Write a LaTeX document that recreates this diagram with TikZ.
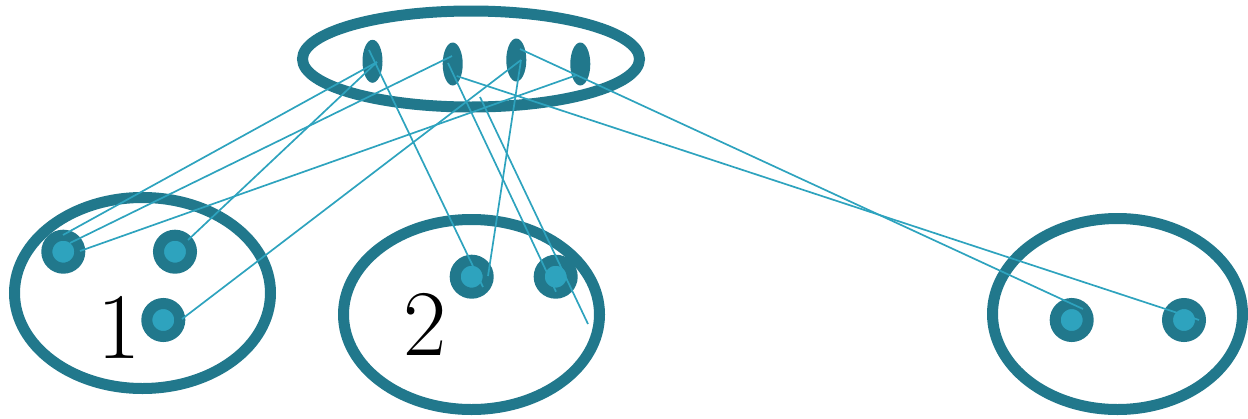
\documentclass[tikz,border=0pt]{standalone}
\usetikzlibrary{shapes.geometric,calc}
\definecolor{darkteal}{RGB}{33,120,140}
\definecolor{lightteal}{RGB}{46,163,190}
\begin{document}
\begin{tikzpicture}[x=1pt,y=-1pt,
  group/.style={draw=darkteal,line width=11pt,ellipse,inner sep=0pt},
  pin/.style={fill=darkteal,ellipse,inner sep=0pt,minimum width=20pt,minimum height=43pt},
  dot/.style={circle,draw=darkteal,fill=lightteal,line width=11pt,inner sep=0pt,minimum size=33pt},
  link/.style={draw=lightteal,line width=1.7pt},
  lbl/.style={inner sep=0pt,font=\fontsize{94}{94}\selectfont}]
\useasboundingbox (0,0) rectangle (1248,418);
% groups
\node[group,minimum width=337pt,minimum height=96pt] (top) at (471,59) {};
\node[group,minimum width=256pt,minimum height=191pt] (g1) at (142.5,293) {};
\node[group,minimum width=256pt,minimum height=190pt] (g2) at (471.5,314.5) {};
\node[group,minimum width=250pt,minimum height=191pt] (g3) at (1117.5,314) {};
% pins in top group
\node[pin] (t1) at (372.5,61.3) {};
\node[pin] (t2) at (452.7,64) {};
\node[pin] (t3) at (516.3,60) {};
\node[pin] (t4) at (580.3,64) {};
% dots
\node[dot] (L1) at (63.3,251.7) {};
\node[dot] (L2) at (175,251.7) {};
\node[dot] (L3) at (163.3,320) {};
\node[dot] (M1) at (471.7,276.7) {};
\node[dot] (M2) at (555.7,276.7) {};
\node[dot] (R1) at (1071.7,320) {};
\node[dot] (R2) at (1184,320) {};
% labels
\node[lbl] (n1) at (119,327) {1};
\node[lbl] (n2) at (425,324) {2};
% free line ends
\coordinate (f1) at (480,97);
\coordinate (f2) at (588,324);
% links
\draw[link] ($(t1)+(-3.5,-11.3)$) -- ($(M1)+(11.3,10.3)$);
\draw[link] ($(t1)+(4.5,0.7)$) -- ($(L1)+(-0.3,-16.7)$);
\draw[link] ($(t1)+(4.5,0.7)$) -- ($(L2)+(13,-11.7)$);
\draw[link] ($(t2)+(-0.7,-8)$) -- ($(L1)+(6.7,-8.7)$);
\draw[link] ($(t3)+(4.7,0)$) -- ($(L3)+(18.7,-1)$);
\draw[link] ($(t3)+(4.7,0)$) -- ($(M1)+(16.3,-0.7)$);
\draw[link] ($(t3)+(3.7,-11)$) -- ($(R1)+(11.3,-11)$);
\draw[link] ($(t4)+(-3.3,11)$) -- ($(L1)+(16.7,-0.7)$);
\draw[link] ($(t2)+(-4.7,-1)$) -- ($(M2)+(0.3,15)$);
\draw[link] ($(t2)+(4,12)$) -- ($(R2)+(15,0)$);
\draw[link] (f1) -- (f2);
\end{tikzpicture}
\end{document}
